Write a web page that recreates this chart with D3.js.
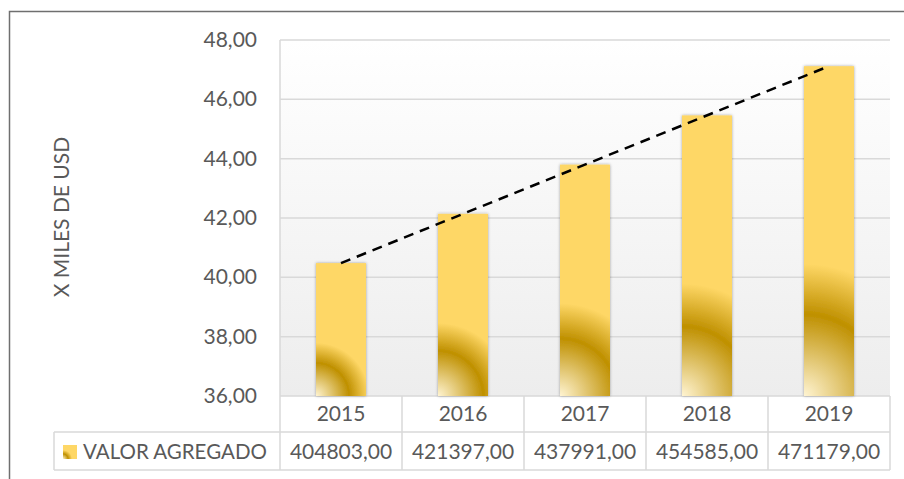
<!DOCTYPE html>
<html>
<head>
<meta charset="utf-8">
<script src="https://cdn.jsdelivr.net/npm/d3@7"></script>
<style>
  body { margin: 0; background: #fff; }
  svg { display: block; }
  text { font-family: Lato, "Open Sans", sans-serif; fill: #595959; }
</style>
</head>
<body>
<svg id="chart" width="904" height="479"></svg>
<script>
// data
var years = ['2015', '2016', '2017', '2018', '2019'];
var values = [404803, 421397, 437991, 454585, 471179];
var yTicks = [36, 38, 40, 42, 44, 46, 48];
var seriesName = 'VALOR AGREGADO';
var axisTitle = 'X MILES DE USD';

var svg = d3.select('#chart');
var fmt = function(v) { return d3.format('.2f')(v).replace('.', ','); };

var plot = { left: 280, right: 890, top: 40, bottom: 396 };
var row1 = 432, row2 = 470, tableLeft = 54;

var x = d3.scaleBand().domain(years).range([plot.left, plot.right]).paddingInner(0).paddingOuter(0);
var y = d3.scaleLinear().domain([36, 48]).range([plot.bottom, plot.top]);
var barW = 50;
var scaled = values.map(function(v) { return v / 10000; });

var defs = svg.append('defs');

// plot background
var bg = defs.append('linearGradient').attr('id', 'bg').attr('x1', 0).attr('y1', 0).attr('x2', 0).attr('y2', 1);
bg.append('stop').attr('offset', '0%').attr('stop-color', '#ffffff');
bg.append('stop').attr('offset', '100%').attr('stop-color', '#ededed');

var shadow = defs.append('filter').attr('id', 'shadow').attr('x', '-20%').attr('y', '-5%').attr('width', '140%').attr('height', '110%');
shadow.append('feDropShadow').attr('dx', 0).attr('dy', 0).attr('stdDeviation', 1.6)
  .attr('flood-color', '#000').attr('flood-opacity', 0.35);

// one radial gradient per bar, from its bottom-left corner
years.forEach(function(yr, i) {
  var x0 = x(yr) + (x.bandwidth() - barW) / 2;
  var h = plot.bottom - y(scaled[i]);
  var g = defs.append('radialGradient').attr('id', 'bar' + i)
    .attr('gradientUnits', 'userSpaceOnUse')
    .attr('cx', x0).attr('cy', plot.bottom).attr('fx', x0).attr('fy', plot.bottom)
    .attr('r', h * 0.4);
  g.append('stop').attr('offset', '0%').attr('stop-color', '#fff4d2');
  g.append('stop').attr('offset', '62%').attr('stop-color', '#bf9000');
  g.append('stop').attr('offset', '100%').attr('stop-color', '#fed766');
});

var key = defs.append('radialGradient').attr('id', 'keyGrad').attr('cx', 0).attr('cy', 1).attr('r', 0.8);
key.append('stop').attr('offset', '0%').attr('stop-color', '#fff4d2');
key.append('stop').attr('offset', '45%').attr('stop-color', '#bf9000');
key.append('stop').attr('offset', '80%').attr('stop-color', '#fed766');

// outer chart border
svg.append('rect').attr('x', 9.5).attr('y', 11.5).attr('width', 920).attr('height', 500)
  .attr('fill', 'none').attr('stroke', '#6f6f6f').attr('stroke-width', 1.5);

svg.append('rect').attr('x', plot.left).attr('y', plot.top)
  .attr('width', plot.right - plot.left).attr('height', plot.bottom - plot.top)
  .attr('fill', 'url(#bg)');

// gridlines
svg.append('g').selectAll('line').data(yTicks).join('line')
  .attr('x1', plot.left).attr('x2', plot.right)
  .attr('y1', function(d) { return y(d); }).attr('y2', function(d) { return y(d); })
  .attr('stroke', '#d9d9d9').attr('stroke-width', 1.5);
svg.append('line').attr('x1', plot.left).attr('x2', plot.left).attr('y1', plot.top).attr('y2', plot.bottom)
  .attr('stroke', '#d9d9d9').attr('stroke-width', 1.5);

// y axis labels
svg.append('g').selectAll('text').data(yTicks).join('text')
  .attr('x', 257).attr('y', function(d) { return y(d) + 7; })
  .attr('text-anchor', 'end').attr('font-size', 21)
  .text(fmt);

svg.append('text').attr('transform', 'translate(69,217) rotate(-90)')
  .attr('text-anchor', 'middle').attr('font-size', 21).text(axisTitle);

// bars
svg.append('g').selectAll('rect').data(years).join('rect')
  .attr('x', function(d) { return x(d) + (x.bandwidth() - barW) / 2; })
  .attr('width', barW)
  .attr('y', function(d, i) { return y(scaled[i]); })
  .attr('height', function(d, i) { return plot.bottom - y(scaled[i]); })
  .attr('fill', function(d, i) { return 'url(#bar' + i + ')'; })
  .attr('filter', 'url(#shadow)');

// linear trendline (least squares over the series)
var n = scaled.length;
var mx = d3.mean(d3.range(n)), my = d3.mean(scaled);
var slope = d3.sum(d3.range(n), function(i) { return (i - mx) * (scaled[i] - my); }) /
            d3.sum(d3.range(n), function(i) { return (i - mx) * (i - mx); });
var trend = [0, n - 1].map(function(i) {
  return [x(years[i]) + x.bandwidth() / 2, y(my + slope * (i - mx))];
});
svg.append('path').attr('d', d3.line()(trend))
  .attr('fill', 'none').attr('stroke', '#000').attr('stroke-width', 2.5)
  .attr('stroke-dasharray', '10,7');

// data table
var tbl = svg.append('g').attr('stroke', '#d9d9d9').attr('stroke-width', 1.5);
tbl.append('line').attr('x1', tableLeft).attr('x2', plot.right).attr('y1', row1).attr('y2', row1);
tbl.append('line').attr('x1', tableLeft).attr('x2', plot.right).attr('y1', row2).attr('y2', row2);
tbl.append('line').attr('x1', tableLeft).attr('x2', tableLeft).attr('y1', row1).attr('y2', row2);
var cols = years.map(function(d) { return x(d); }).concat([plot.right]);
tbl.selectAll('line.col').data(cols).join('line').attr('class', 'col')
  .attr('x1', function(d) { return d; }).attr('x2', function(d) { return d; })
  .attr('y1', plot.bottom).attr('y2', row2);

svg.append('g').selectAll('text').data(years).join('text')
  .attr('x', function(d) { return x(d) + x.bandwidth() / 2; }).attr('y', 421)
  .attr('text-anchor', 'middle').attr('font-size', 21).text(function(d) { return d; });

svg.append('g').selectAll('text').data(values).join('text')
  .attr('x', function(d, i) { return x(years[i]) + x.bandwidth() / 2; }).attr('y', 459)
  .attr('text-anchor', 'middle').attr('font-size', 21).text(fmt);

svg.append('rect').attr('x', 63).attr('y', 445).attr('width', 14).attr('height', 14)
  .attr('fill', 'url(#keyGrad)');
svg.append('text').attr('x', 83).attr('y', 459).attr('font-size', 20.5).text(seriesName);
</script>
</body>
</html>
